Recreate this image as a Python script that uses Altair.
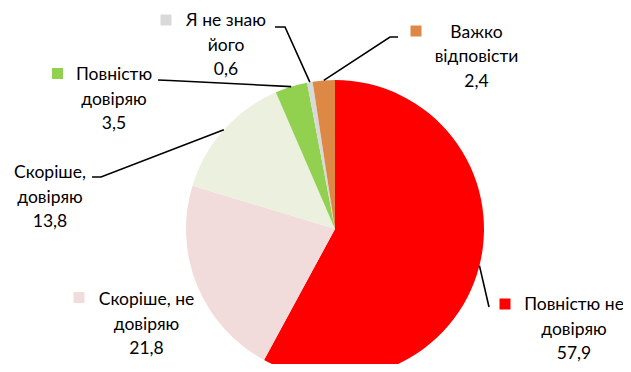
import altair as alt
import pandas as pd
import numpy as np

# ---------------- data ----------------
categories = ["Повністю не довіряю", "Скоріше, не довіряю", "Скоріше, довіряю",
              "Повністю довіряю", "Я не знаю його", "Важко відповісти"]
values = [57.9, 21.8, 13.8, 3.5, 0.6, 2.4]
value_labels = ["57,9", "21,8", "13,8", "3,5", "0,6", "2,4"]
label_lines = [["Повністю не", "довіряю"], ["Скоріше, не", "довіряю"], ["Скоріше,", "довіряю"],
               ["Повністю", "довіряю"], ["Я не знаю", "його"], ["Важко", "відповісти"]]
colors = ["#FF0000", "#F2DCDB", "#EBF1DE", "#92D050", "#D9D9D9", "#DD8844"]

# ---------------- layout (page pixels) ----------------
OFF = 8
W, H = 615, 356
CX, CY, R = 335 - OFF, 229 - OFF, 149
FONT = "Lato"
FS = 17.5
# per category: text centre x, first baseline y, key square centre (or None)
label_pos = [
    (574, 310, (505, 304)),
    (146.5, 305, (79, 297.5)),
    (50, 178, None),
    (114, 80, (57.5, 73.5)),
    (226, 26, (166, 20)),
    (476.5, 37.5, (416, 31)),
]
LINE_H = 24.5
# leader line points on the label side (page pixels); slice end computed from data
leader_pts = [
    [(489, 307)],
    None,
    [(92, 177), (101, 177)],
    [(158, 80), (170, 80.5)],
    [(275, 27), (285, 27)],
    [(398, 37), (390, 37)],
]

# ---------------- build tables ----------------
df = pd.DataFrame({"cat": categories, "value": values, "idx": range(len(values))})

total = sum(values)
cum = np.cumsum([0] + values)
text_rows, sq_rows, line_rows = [], [], []
for i, cat in enumerate(categories):
    tx, ty, sq = label_pos[i]
    lines = label_lines[i] + [value_labels[i]]
    for j, t in enumerate(lines):
        text_rows.append({"x": tx - OFF, "y": ty + j * LINE_H - OFF, "text": t})
    if sq is not None:
        sq_rows.append({"x": sq[0] - OFF, "y": sq[1] - OFF, "cat": cat})
    if leader_pts[i] is not None:
        mid = (cum[i] + cum[i + 1]) / 2 / total * 2 * np.pi
        ex, ey = CX + R * np.sin(mid), CY - R * np.cos(mid)
        pts = [(px - OFF, py - OFF) for px, py in leader_pts[i]] + [(ex, ey)]
        for k, (px, py) in enumerate(pts):
            line_rows.append({"x": px, "y": py, "key": cat, "seq": k})

text_df = pd.DataFrame(text_rows)
sq_df = pd.DataFrame(sq_rows)
line_df = pd.DataFrame(line_rows)

color_scale = alt.Scale(domain=categories, range=colors)

arc = alt.Chart(df).mark_arc(outerRadius=R).encode(
    theta=alt.Theta("value:Q", stack=True),
    order=alt.Order("idx:Q"),
    color=alt.Color("cat:N", scale=color_scale, legend=None),
    x=alt.value(CX),
    y=alt.value(CY),
)

leaders = alt.Chart(line_df).mark_line(color="black", strokeWidth=1.6).encode(
    x=alt.X("x:Q", scale=None),
    y=alt.Y("y:Q", scale=None),
    detail="key:N",
    order="seq:Q",
)

squares = alt.Chart(sq_df).mark_square(size=121, opacity=1, filled=True).encode(
    x=alt.X("x:Q", scale=None),
    y=alt.Y("y:Q", scale=None),
    color=alt.Color("cat:N", scale=color_scale, legend=None),
)

texts = alt.Chart(text_df).mark_text(font=FONT, fontSize=FS, align="center",
                                     baseline="alphabetic", color="#000000").encode(
    x=alt.X("x:Q", scale=None),
    y=alt.Y("y:Q", scale=None),
    text="text:N",
)

chart = alt.layer(arc, leaders, squares, texts).properties(
    width=W, height=H, padding=0, autosize=alt.AutoSizeParams(type="none")
).configure_view(stroke=None)

chart.save("out.html", embed_options={"renderer": "svg", "actions": False})
